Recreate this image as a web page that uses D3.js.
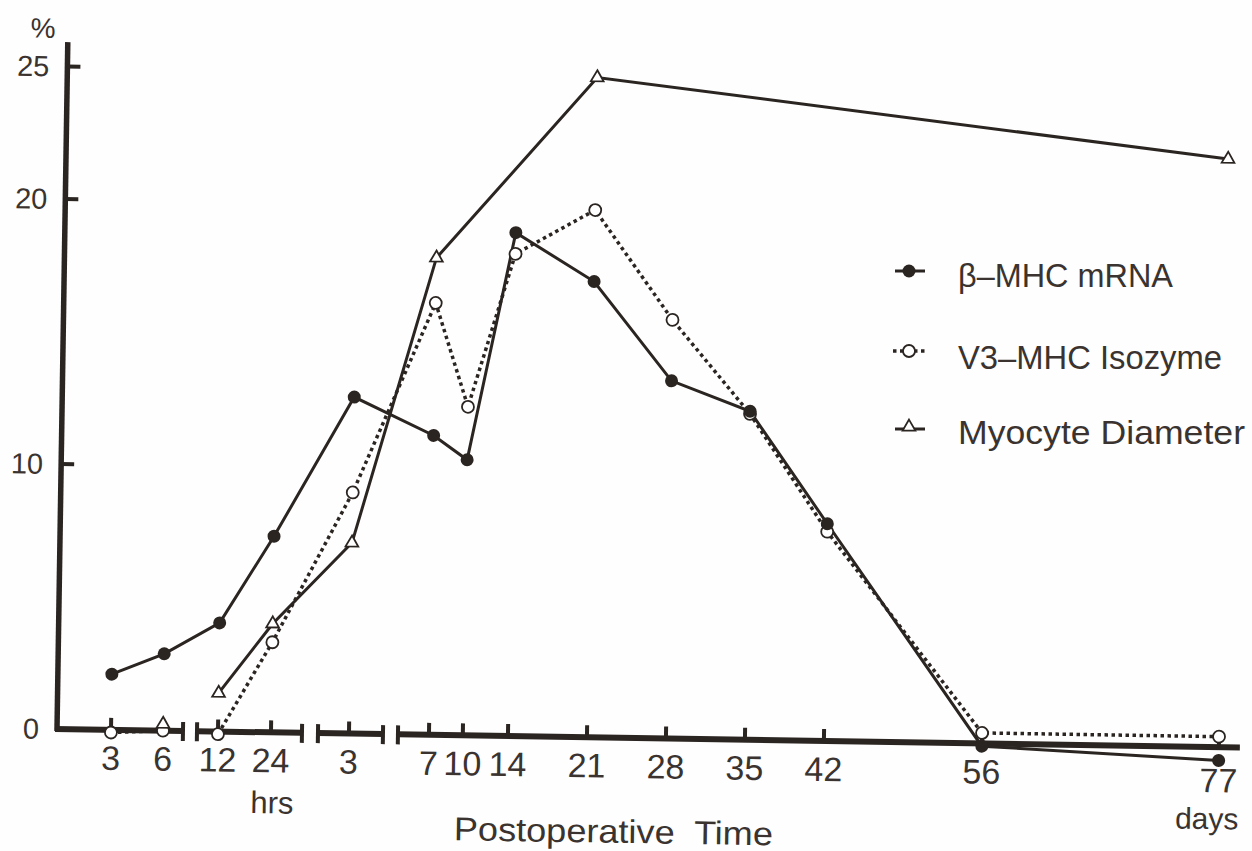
<!DOCTYPE html>
<html>
<head>
<meta charset="utf-8">
<script src="https://cdn.jsdelivr.net/npm/d3@7"></script>
<style>
body { margin: 0; background: #fff; }
svg { display: block; }
text { font-family: "Liberation Sans", Arial, sans-serif; fill: #3a3330; }
</style>
</head>
<body>
<div id="graph"></div>
<script>
// time points (hours after operation) and their tick labels
var categories = ["3h", "6h", "12h", "24h", "3d", "7d", "10d", "14d", "21d", "28d", "35d", "42d", "56d", "77d"];
var hours = [3, 6, 12, 24, 72, 168, 240, 336, 504, 672, 840, 1008, 1344, 1848];
var tickLabels = ["3", "6", "12", "24", "3", "7", "10", "14", "21", "28", "35", "42", "56", "77"];

// percent values
var betaMHC = [2.1, 2.9, 4.1, 7.4, 12.7, 11.3, 10.4, 19.0, 17.2, 13.5, 12.4, 8.2, -0.1, -0.5];
var v3MHC = [-0.1, 0.0, -0.1, 3.4, 9.1, 16.3, 12.4, 18.2, 19.9, 15.8, 12.3, 7.9, 0.4, 0.4];
var myocyte = [null, 0.25, 1.45, 4.1, 7.2, 18.0, null, null, 24.9, null, null, null, null, 22.2];

var yTicks = [10, 20, 25];
var yLabels = [0, 10, 20, 25];

var ink = "#2b2522";

var vis = d3.select("#graph").append("svg")
  .attr("width", 1252)
  .attr("height", 851);

vis.append("rect").attr("width", 1252).attr("height", 851).attr("fill", "#fefefe");

// hours axis is broken: piecewise scale (hrs | 3 days | days)
var x = d3.scaleLinear()
  .domain([3, 6, 12, 24, 72, 168, 1848])
  .range([111, 163, 218, 271, 349, 429, 1219]);

var y = d3.scaleLinear()
  .domain([0, 25])
  .range([729, 66.5]);

// the scanned figure sits slightly rotated
var g = vis.append("g").attr("transform", "rotate(0.9,57,729)");

// y axis
g.append("line")
  .attr("x1", 57).attr("x2", 57)
  .attr("y1", 731).attr("y2", 42)
  .attr("stroke", ink).attr("stroke-width", 5.5);

g.selectAll(".ytick")
  .data(yTicks)
  .enter().append("line")
  .attr("x1", 57).attr("x2", 70)
  .attr("y1", function(d) { return y(d); })
  .attr("y2", function(d) { return y(d); })
  .attr("stroke", ink).attr("stroke-width", 4);

g.selectAll(".ylab")
  .data(yLabels)
  .enter().append("text")
  .attr("x", 39)
  .attr("y", function(d) { return y(d) + 10; })
  .attr("text-anchor", "end")
  .style("font-size", "29px")
  .text(function(d) { return d; });

g.append("text")
  .attr("x", 32).attr("y", 38)
  .attr("text-anchor", "middle")
  .style("font-size", "28px")
  .text("%");

// x axis pieces with break marks
var pieces = [[55, 183], [197, 302], [318, 383], [398, 1240]];

g.selectAll(".xseg")
  .data(pieces)
  .enter().append("line")
  .attr("x1", function(d) { return d[0]; })
  .attr("x2", function(d) { return d[1]; })
  .attr("y1", y(0)).attr("y2", y(0))
  .attr("stroke", ink).attr("stroke-width", 6);

var breakMarks = [183, 197, 302, 318, 383, 398];
g.selectAll(".xbreak")
  .data(breakMarks)
  .enter().append("line")
  .attr("x1", function(d) { return d; })
  .attr("x2", function(d) { return d; })
  .attr("y1", y(0) - 9).attr("y2", y(0) + 10)
  .attr("stroke", ink).attr("stroke-width", 4);

g.selectAll(".xtick")
  .data(hours)
  .enter().append("line")
  .attr("x1", function(d) { return x(d); })
  .attr("x2", function(d) { return x(d); })
  .attr("y1", y(0)).attr("y2", y(0) - 12)
  .attr("stroke", ink).attr("stroke-width", 4);

g.selectAll(".xlab")
  .data(hours)
  .enter().append("text")
  .attr("x", function(d) { return x(d); })
  .attr("y", function(d, i) { return i == hours.length - 1 ? y(0) + 45 : y(0) + 40; })
  .attr("text-anchor", "middle")
  .style("font-size", "34px")
  .text(function(d, i) { return tickLabels[i]; });

g.append("text")
  .attr("x", 273).attr("y", 810)
  .attr("text-anchor", "middle")
  .style("font-size", "31px")
  .text("hrs");

g.append("text")
  .attr("x", 1208).attr("y", 811)
  .attr("text-anchor", "middle")
  .style("font-size", "30px")
  .text("days");

g.append("text")
  .attr("x", 615).attr("y", 834)
  .attr("text-anchor", "middle")
  .attr("textLength", 319)
  .attr("lengthAdjust", "spacingAndGlyphs")
  .style("font-size", "33px")
  .style("white-space", "pre")
  .text("Postoperative  Time");

// split a series into drawn runs; breakAfter = indexes where the line stops
function runs(vals, breakAfter) {
  var out = [], cur = [];
  vals.forEach(function(v, i) {
    if (v != null) cur.push({h: hours[i], v: v});
    if (breakAfter.indexOf(i) >= 0) { out.push(cur); cur = []; }
  });
  out.push(cur);
  return out.filter(function(r) { return r.length > 1; });
}

function pts(vals) {
  return vals.map(function(v, i) { return {h: hours[i], v: v}; })
    .filter(function(d) { return d.v != null; });
}

var line = d3.line()
  .x(function(d) { return x(d.h); })
  .y(function(d) { return y(d.v); });

// V3-MHC isozyme, dotted
g.selectAll(".v3line")
  .data(runs(v3MHC, [1]))
  .enter().append("path")
  .attr("d", line)
  .attr("fill", "none")
  .attr("stroke", ink).attr("stroke-width", 3.5)
  .attr("stroke-dasharray", "3.5,3.5");

// beta-MHC mRNA, solid
g.selectAll(".bline")
  .data(runs(betaMHC, []))
  .enter().append("path")
  .attr("d", line)
  .attr("fill", "none")
  .attr("stroke", ink).attr("stroke-width", 3);

// myocyte diameter, solid
g.selectAll(".mline")
  .data(runs(myocyte, [1]))
  .enter().append("path")
  .attr("d", line)
  .attr("fill", "none")
  .attr("stroke", ink).attr("stroke-width", 3);

g.selectAll(".v3dot")
  .data(pts(v3MHC))
  .enter().append("circle")
  .attr("cx", function(d) { return x(d.h); })
  .attr("cy", function(d) { return y(d.v); })
  .attr("r", 6)
  .attr("fill", "#fff")
  .attr("stroke", ink).attr("stroke-width", 1.8);

g.selectAll(".bdot")
  .data(pts(betaMHC))
  .enter().append("circle")
  .attr("cx", function(d) { return x(d.h); })
  .attr("cy", function(d) { return y(d.v); })
  .attr("r", 6.5)
  .attr("fill", ink);

var tri = d3.symbol().type(d3.symbolTriangle).size(70);
g.selectAll(".mtri")
  .data(pts(myocyte))
  .enter().append("path")
  .attr("d", tri)
  .attr("transform", function(d) { return "translate(" + x(d.h) + "," + y(d.v) + ")"; })
  .attr("fill", "#fff")
  .attr("stroke", ink).attr("stroke-width", 1.8);

// legend
var legend = [
  {name: "β–MHC mRNA", cy: 271, ty: 287, w: 215, kind: "beta"},
  {name: "V3–MHC Isozyme", cy: 351, ty: 369, w: 264, kind: "v3"},
  {name: "Myocyte Diameter", cy: 429, ty: 444, w: 287, kind: "myo"}
];

var lg = vis.selectAll(".leg")
  .data(legend)
  .enter().append("g");

lg.append("line")
  .attr("x1", function(d) { return d.kind == "v3" ? 893 : 895; })
  .attr("x2", 925)
  .attr("y1", function(d) { return d.cy; })
  .attr("y2", function(d) { return d.cy; })
  .attr("stroke", ink)
  .attr("stroke-width", function(d) { return d.kind == "v3" ? 3.5 : 3; })
  .attr("stroke-dasharray", function(d) { return d.kind == "v3" ? "3.5,3.5" : null; });

lg.filter(function(d) { return d.kind != "myo"; })
  .append("circle")
  .attr("cx", 909)
  .attr("cy", function(d) { return d.cy; })
  .attr("r", function(d) { return d.kind == "beta" ? 6.5 : 6; })
  .attr("fill", function(d) { return d.kind == "beta" ? ink : "#fff"; })
  .attr("stroke", ink)
  .attr("stroke-width", function(d) { return d.kind == "beta" ? 0 : 1.8; });

lg.filter(function(d) { return d.kind == "myo"; })
  .append("path")
  .attr("d", tri)
  .attr("transform", function(d) { return "translate(909," + (d.cy - 2) + ")"; })
  .attr("fill", "#fff")
  .attr("stroke", ink).attr("stroke-width", 1.8);

lg.append("text")
  .attr("x", 958)
  .attr("y", function(d) { return d.ty; })
  .attr("textLength", function(d) { return d.w; })
  .attr("lengthAdjust", "spacingAndGlyphs")
  .style("font-size", "33px")
  .text(function(d) { return d.name; });
</script>
</body>
</html>
